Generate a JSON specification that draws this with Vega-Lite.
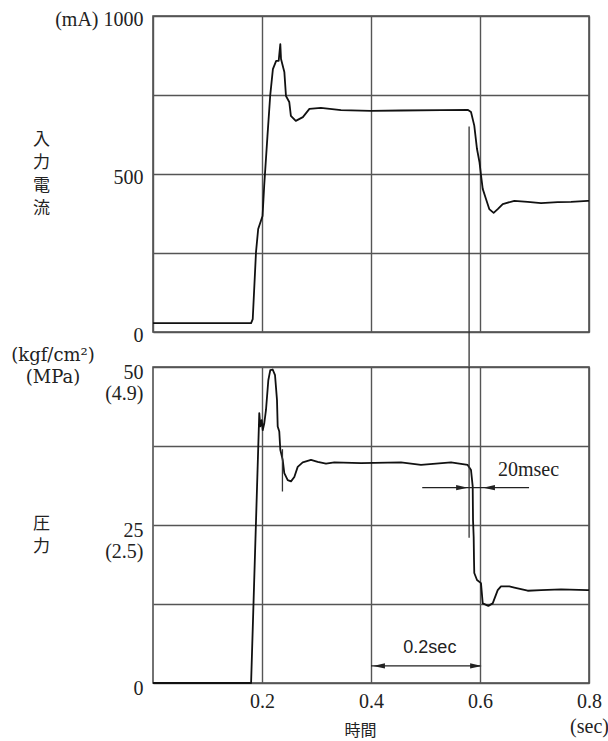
{
  "$schema": "https://vega.github.io/schema/vega-lite/v6.json",
  "background": "white",
  "padding": {"left": 10, "top": 8, "right": 0, "bottom": 0},
  "bounds": "flush",
  "spacing": 35,
  "config": {
    "view": {"stroke": "#444", "strokeWidth": 1.5},
    "axis": {
      "gridColor": "#555", "gridWidth": 1.4, "gridOpacity": 1,
      "domain": false, "ticks": false,
      "labelFont": "Liberation Serif", "labelFontSize": 20, "labelColor": "#222",
      "titleFont": "Noto Sans CJK JP", "titleFontSize": 17, "titleFontWeight": "normal", "titleColor": "#222",
      "labelOverlap": false, "labelFlush": false, "labelBound": false
    }
  },
  "datasets": {
    "current": [
      {"t": 0, "mA": 28}, {"t": 0.088, "mA": 28}, {"t": 0.18, "mA": 28}, {"t": 0.183, "mA": 41},
      {"t": 0.189, "mA": 253}, {"t": 0.193, "mA": 326}, {"t": 0.201, "mA": 367}, {"t": 0.204, "mA": 462},
      {"t": 0.21, "mA": 620}, {"t": 0.215, "mA": 747}, {"t": 0.22, "mA": 832}, {"t": 0.226, "mA": 858},
      {"t": 0.2306, "mA": 858}, {"t": 0.2336, "mA": 911}, {"t": 0.2349, "mA": 864}, {"t": 0.241, "mA": 823},
      {"t": 0.244, "mA": 747}, {"t": 0.25, "mA": 728}, {"t": 0.253, "mA": 684}, {"t": 0.262, "mA": 668},
      {"t": 0.275, "mA": 680}, {"t": 0.287, "mA": 706}, {"t": 0.308, "mA": 709}, {"t": 0.345, "mA": 702},
      {"t": 0.4, "mA": 700}, {"t": 0.455, "mA": 701}, {"t": 0.528, "mA": 702}, {"t": 0.5774, "mA": 703},
      {"t": 0.5835, "mA": 696}, {"t": 0.5895, "mA": 653}, {"t": 0.5945, "mA": 579}, {"t": 0.599, "mA": 538},
      {"t": 0.602, "mA": 494}, {"t": 0.605, "mA": 453}, {"t": 0.611, "mA": 421}, {"t": 0.617, "mA": 389},
      {"t": 0.625, "mA": 377}, {"t": 0.6325, "mA": 389}, {"t": 0.6417, "mA": 405}, {"t": 0.663, "mA": 415},
      {"t": 0.6875, "mA": 412}, {"t": 0.712, "mA": 408}, {"t": 0.7426, "mA": 411}, {"t": 0.767, "mA": 412},
      {"t": 0.7976, "mA": 415}, {"t": 0.8, "mA": 415}
    ],
    "pressure": [
      {"t": 0, "p": 0}, {"t": 0.18, "p": 0}, {"t": 0.195, "p": 42.7}, {"t": 0.197, "p": 40.6},
      {"t": 0.1994, "p": 41.6}, {"t": 0.2013, "p": 40.0}, {"t": 0.2042, "p": 41.1}, {"t": 0.2073, "p": 43.2},
      {"t": 0.2116, "p": 47.9}, {"t": 0.2152, "p": 49.5}, {"t": 0.2196, "p": 49.6}, {"t": 0.2239, "p": 48.7},
      {"t": 0.2275, "p": 44.8}, {"t": 0.2288, "p": 40.6}, {"t": 0.2317, "p": 39.8}, {"t": 0.2336, "p": 36.9},
      {"t": 0.238, "p": 35.3}, {"t": 0.2409, "p": 33.2}, {"t": 0.2472, "p": 32.1}, {"t": 0.2532, "p": 31.9},
      {"t": 0.2593, "p": 32.6}, {"t": 0.2655, "p": 34.2}, {"t": 0.2747, "p": 34.9}, {"t": 0.2899, "p": 35.3},
      {"t": 0.3022, "p": 35.0}, {"t": 0.3174, "p": 34.7}, {"t": 0.3327, "p": 34.9}, {"t": 0.3817, "p": 34.8},
      {"t": 0.455, "p": 34.9}, {"t": 0.4917, "p": 34.5}, {"t": 0.5468, "p": 34.9}, {"t": 0.5774, "p": 34.5},
      {"t": 0.5835, "p": 33.7}, {"t": 0.5866, "p": 31.1}, {"t": 0.5872, "p": 25.8}, {"t": 0.5884, "p": 23.1},
      {"t": 0.589, "p": 19.5}, {"t": 0.5895, "p": 17.4}, {"t": 0.5945, "p": 16.3}, {"t": 0.6018, "p": 15.8},
      {"t": 0.605, "p": 12.6}, {"t": 0.6153, "p": 12.2}, {"t": 0.6233, "p": 12.6}, {"t": 0.6325, "p": 14.7},
      {"t": 0.6385, "p": 15.3}, {"t": 0.6538, "p": 15.3}, {"t": 0.663, "p": 15.1}, {"t": 0.6875, "p": 14.6},
      {"t": 0.712, "p": 14.7}, {"t": 0.7486, "p": 14.8}, {"t": 0.7976, "p": 14.7}, {"t": 0.8, "p": 14.7}
    ],
    "markers": [
      {"panel": "top", "t": 0.58, "from": 650, "to": -110},
      {"panel": "bottom", "t": 0.58, "from": 50, "to": 23},
      {"panel": "bottom", "t": 0.2375, "from": 37, "to": 30.3}
    ],
    "spans": [
      {"label": "20msec", "t1": 0.494, "t2": 0.69, "level": 30.9},
      {"label": "0.2sec", "t1": 0.4, "t2": 0.6, "level": 2.7}
    ],
    "heads": [
      {"dir": "right", "t": 0.567, "level": 30.9},
      {"dir": "left", "t": 0.6165, "level": 30.9},
      {"dir": "left", "t": 0.4147, "level": 2.7},
      {"dir": "right", "t": 0.5927, "level": 2.7}
    ],
    "notes": [
      {"label": "20msec", "t": 0.633, "level": 33.7, "style": "serif"},
      {"label": "0.2sec", "t": 0.508, "level": 5.5, "style": "sans"}
    ]
  },
  "vconcat": [
    {
      "width": 436,
      "height": 316,
      "layer": [
        {
          "data": {"name": "current"},
          "mark": {"type": "line", "color": "#111", "strokeWidth": 1.8, "strokeJoin": "round"},
          "encoding": {
            "x": {"field": "t", "type": "quantitative",
              "scale": {"domain": [0, 0.8], "nice": false, "zero": false},
              "axis": {"values": [0, 0.2, 0.4, 0.6, 0.8], "labels": false, "title": null, "grid": true}},
            "y": {"field": "mA", "type": "quantitative",
              "scale": {"domain": [0, 1000], "nice": false},
              "axis": {"values": [0, 250, 500, 750, 1000],
                "labelExpr": "datum.value == 1000 ? '(mA) 1000' : (datum.value == 500 ? '500' : (datum.value == 0 ? '0' : ''))",
                "labelPadding": 10, "labelBaseline": "middle", "labelOffset": 3,
                "title": ["入", "力", "電", "流"], "titleAngle": 0, "titleX": -112, "titleY": 115,
                "titleAlign": "center", "titleBaseline": "top", "titleLineHeight": 23}}
          }
        },
        {
          "data": {"name": "markers"},
          "transform": [{"filter": "datum.panel == 'top'"}],
          "mark": {"type": "rule", "color": "#333", "strokeWidth": 1.3},
          "encoding": {
            "x": {"field": "t", "type": "quantitative"},
            "y": {"field": "from", "type": "quantitative"},
            "y2": {"field": "to"}
          }
        }
      ]
    },
    {
      "width": 436,
      "height": 316,
      "title": {
        "text": ["(kgf/cm²)", "(MPa)"], "orient": "top", "anchor": "start", "frame": "group",
        "align": "center", "baseline": "top", "dx": -100, "dy": 25, "offset": 0,
        "font": "DejaVu Serif", "fontSize": 18, "fontWeight": "normal", "lineHeight": 22, "color": "#222"
      },
      "layer": [
        {
          "data": {"name": "pressure"},
          "mark": {"type": "line", "color": "#111", "strokeWidth": 1.8, "strokeJoin": "round"},
          "encoding": {
            "x": {"field": "t", "type": "quantitative",
              "scale": {"domain": [0, 0.8], "nice": false, "zero": false},
              "axis": {"values": [0.2, 0.4, 0.6, 0.8], "grid": true,
                "labelExpr": "datum.value > 0.79 ? ['0.8', '(sec)'] : format(datum.value, '.1f')",
                "labelPadding": 8, "labelLineHeight": 25,
                "title": "時間", "titleX": 207, "titleY": 47, "titleBaseline": "middle", "titleAlign": "center", "titleFontSize": 16}},
            "y": {"field": "p", "type": "quantitative",
              "scale": {"domain": [0, 50], "nice": false},
              "axis": {"values": [0, 12.5, 25, 37.5, 50],
                "labelExpr": "datum.value == 50 ? ['50', '(4.9)'] : (datum.value == 25 ? ['25', '(2.5)'] : (datum.value == 0 ? '0' : ''))",
                "labelPadding": 10, "labelBaseline": "top", "labelOffset": -5, "labelLineHeight": 21,
                "title": ["圧", "力"], "titleAngle": 0, "titleX": -112, "titleY": 148,
                "titleAlign": "center", "titleBaseline": "top", "titleLineHeight": 23}}
          }
        },
        {
          "data": {"name": "markers"},
          "transform": [{"filter": "datum.panel == 'bottom'"}],
          "mark": {"type": "rule", "color": "#333", "strokeWidth": 1.3},
          "encoding": {
            "x": {"field": "t", "type": "quantitative"},
            "y": {"field": "from", "type": "quantitative"},
            "y2": {"field": "to"}
          }
        },
        {
          "data": {"name": "spans"},
          "mark": {"type": "rule", "color": "#222", "strokeWidth": 1.2},
          "encoding": {
            "x": {"field": "t1", "type": "quantitative"},
            "x2": {"field": "t2"},
            "y": {"field": "level", "type": "quantitative"}
          }
        },
        {
          "data": {"name": "heads"},
          "transform": [{"filter": "datum.dir == 'left'"}],
          "mark": {"type": "point", "shape": "M-1,0L1,-0.45L1,0.45Z", "filled": true, "size": 140, "color": "#222", "opacity": 1},
          "encoding": {
            "x": {"field": "t", "type": "quantitative"},
            "y": {"field": "level", "type": "quantitative"}
          }
        },
        {
          "data": {"name": "heads"},
          "transform": [{"filter": "datum.dir == 'right'"}],
          "mark": {"type": "point", "shape": "M1,0L-1,-0.45L-1,0.45Z", "filled": true, "size": 140, "color": "#222", "opacity": 1},
          "encoding": {
            "x": {"field": "t", "type": "quantitative"},
            "y": {"field": "level", "type": "quantitative"}
          }
        },
        {
          "data": {"name": "notes"},
          "transform": [{"filter": "datum.style == 'serif'"}],
          "mark": {"type": "text", "font": "Liberation Serif", "fontSize": 20, "align": "left", "baseline": "middle", "color": "#222"},
          "encoding": {
            "x": {"field": "t", "type": "quantitative"},
            "y": {"field": "level", "type": "quantitative"},
            "text": {"field": "label"}
          }
        },
        {
          "data": {"name": "notes"},
          "transform": [{"filter": "datum.style == 'sans'"}],
          "mark": {"type": "text", "font": "Liberation Sans", "fontSize": 18, "align": "center", "baseline": "middle", "color": "#222"},
          "encoding": {
            "x": {"field": "t", "type": "quantitative"},
            "y": {"field": "level", "type": "quantitative"},
            "text": {"field": "label"}
          }
        }
      ]
    }
  ]
}
